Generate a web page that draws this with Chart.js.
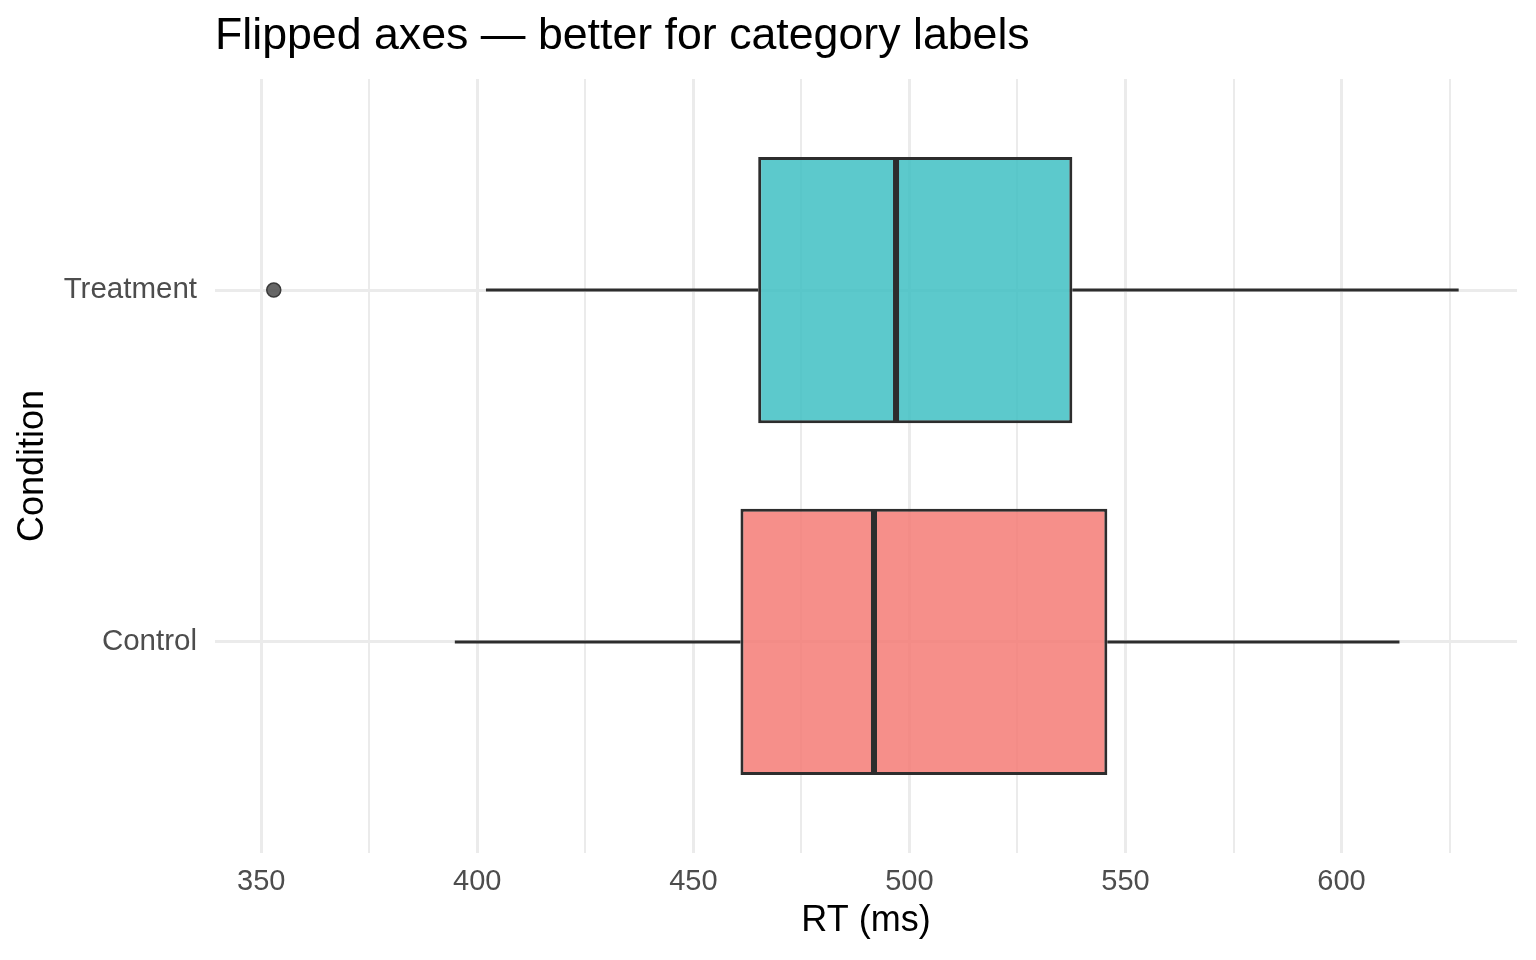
<!DOCTYPE html>
<html>
<head>
<meta charset="utf-8">
<title>Flipped axes</title>
<script src="https://cdn.jsdelivr.net/npm/chart.js@4.4.1/dist/chart.umd.min.js"></script>
<style>
  html, body { margin: 0; padding: 0; background: #ffffff; }
  #wrap { width: 1536px; height: 960px; }
</style>
</head>
<body>
<div id="wrap"><canvas id="myChart" width="1536" height="960"></canvas></div>
<script>
// box plot summary per condition (y position 1 = Control, 2 = Treatment)
const conditions = ["Control", "Treatment"];
const positions = [1, 2];
const q1 = [460.9, 465.0];
const medians = [491.8, 496.9];
const q3 = [545.8, 537.7];
const whiskerLow = [394.8, 402.0];
const whiskerHigh = [613.4, 627.1];
const outliers = [[], [352.9]];
const fillColors = ["rgba(244,123,117,0.85)", "rgba(63,191,195,0.85)"];

const xMajorTicks = [350, 400, 450, 500, 550, 600];
const xMinorTicks = [375, 425, 475, 525, 575, 625];

const lineColor = "#2d2d2d";
const gridColor = "#EBEBEB";
const fontFamily = "'Liberation Sans', Arial, Helvetica, sans-serif";
const halfBox = 0.375;

const datasets = [];

// boxes (border is drawn inside the bar, so a touch taller than 0.75)
datasets.push({
  type: "bar",
  data: positions.map((p, i) => ({ x: [q1[i], q3[i]], y: p })),
  backgroundColor: fillColors,
  borderColor: lineColor,
  borderWidth: 3,
  borderSkipped: false,
  categoryPercentage: 1,
  barPercentage: 0.757,
  order: 2
});

// whiskers and medians
positions.forEach((p, i) => {
  datasets.push({
    type: "line",
    data: [{ x: whiskerLow[i], y: p }, { x: q1[i], y: p }],
    borderColor: lineColor, borderWidth: 3, pointRadius: 0, order: 3
  });
  datasets.push({
    type: "line",
    data: [{ x: q3[i], y: p }, { x: whiskerHigh[i], y: p }],
    borderColor: lineColor, borderWidth: 3, pointRadius: 0, order: 3
  });
  datasets.push({
    type: "line",
    data: [{ x: medians[i], y: p - halfBox }, { x: medians[i], y: p + halfBox }],
    borderColor: lineColor, borderWidth: 6, borderCapStyle: "butt", pointRadius: 0, order: 1
  });
});

// outliers
datasets.push({
  type: "scatter",
  data: positions.flatMap((p, i) => outliers[i].map(v => ({ x: v, y: p }))),
  backgroundColor: "rgba(85,85,85,0.9)",
  borderColor: "#3a3a3a",
  borderWidth: 1.5,
  pointRadius: 7,
  order: 0
});

// title drawn at the left edge of the plot area
const titlePlugin = {
  id: "leftTitle",
  afterDraw(chart) {
    const ctx = chart.ctx;
    ctx.save();
    ctx.font = "44.7px " + fontFamily;
    ctx.fillStyle = "#000000";
    ctx.textBaseline = "alphabetic";
    ctx.textAlign = "left";
    ctx.fillText("Flipped axes \u2014 better for category labels", chart.chartArea.left, 49);
    ctx.restore();
  }
};

new Chart("myChart", {
  type: "bar",
  data: { datasets: datasets },
  plugins: [titlePlugin],
  options: {
    indexAxis: "y",
    responsive: false,
    animation: false,
    devicePixelRatio: 1,
    layout: { padding: { top: 79, right: 19, bottom: 0, left: 0 } },
    plugins: {
      legend: { display: false },
      tooltip: { enabled: false },
      title: { display: false }
    },
    scales: {
      x: {
        type: "linear",
        min: 339.3,
        max: 640.6,
        afterBuildTicks: axis => {
          axis.ticks = xMajorTicks.concat(xMinorTicks).sort((a, b) => a - b).map(v => ({ value: v }));
        },
        afterFit: axis => { axis.height = 107; },
        border: { display: false },
        grid: {
          drawTicks: false,
          color: gridColor,
          lineWidth: c => (xMajorTicks.includes(c.tick.value) ? 3 : 2)
        },
        ticks: {
          padding: 12,
          color: "#4D4D4D",
          font: { family: fontFamily, size: 29 },
          callback: v => (xMajorTicks.includes(v) ? String(v) : "")
        },
        title: {
          display: true,
          text: "RT (ms)",
          color: "#000000",
          font: { family: fontFamily, size: 36 },
          padding: { top: 0, bottom: 17 }
        }
      },
      y: {
        type: "linear",
        min: 0.4,
        max: 2.6,
        offset: false,
        afterBuildTicks: axis => {
          axis.ticks = positions.map(v => ({ value: v }));
        },
        afterFit: axis => { axis.width = 215; },
        border: { display: false },
        grid: { drawTicks: false, offset: false, color: gridColor, lineWidth: 3 },
        ticks: {
          padding: 18,
          color: "#4D4D4D",
          font: { family: fontFamily, size: 29.5 },
          callback: v => conditions[positions.indexOf(v)] || ""
        },
        title: {
          display: true,
          text: "Condition",
          color: "#000000",
          font: { family: fontFamily, size: 36 },
          padding: { top: 11, bottom: 0 }
        }
      }
    }
  }
});
</script>
</body>
</html>
